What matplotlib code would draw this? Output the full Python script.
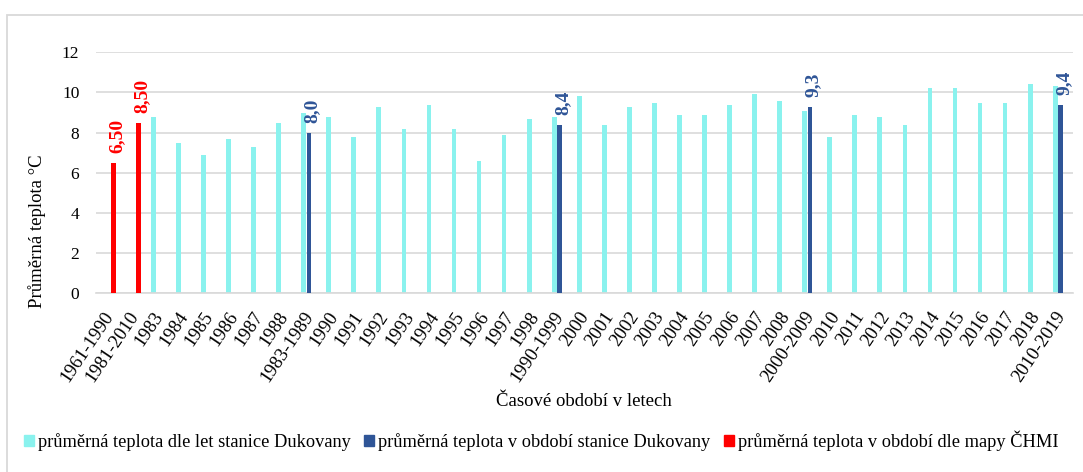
import numpy as np
import matplotlib
matplotlib.use("Agg")
import matplotlib.pyplot as plt
import matplotlib.transforms as mtrans
from matplotlib.patches import Rectangle

plt.rcParams["font.family"] = ["Liberation Serif", "DejaVu Serif"]

# data: one value per category, None where a series has no bar
labels = ["1961-1990", "1981-2010",
          "1983", "1984", "1985", "1986", "1987", "1988", "1983-1989",
          "1990", "1991", "1992", "1993", "1994", "1995", "1996", "1997", "1998", "1990-1999",
          "2000", "2001", "2002", "2003", "2004", "2005", "2006", "2007", "2008", "2000-2009",
          "2010", "2011", "2012", "2013", "2014", "2015", "2016", "2017", "2018", "2010-2019"]

rocni = [None, None,
         8.8, 7.5, 6.9, 7.7, 7.3, 8.5, 9.0,
         8.8, 7.8, 9.3, 8.2, 9.4, 8.2, 6.6, 7.9, 8.7, 8.8,
         9.8, 8.4, 9.3, 9.5, 8.9, 8.9, 9.4, 9.9, 9.6, 9.1,
         7.8, 8.9, 8.8, 8.4, 10.2, 10.2, 9.5, 9.5, 10.4, 10.3]

obdobi = {"1983-1989": 8.0, "1990-1999": 8.4, "2000-2009": 9.3, "2010-2019": 9.4}
chmi = {"1961-1990": 6.5, "1981-2010": 8.5}

c_cyan = "#8af2ee"
c_blue = "#2f5597"
c_red = "#ff0000"

fig = plt.figure(figsize=(10.83, 4.72), dpi=100)
fig.patches.append(Rectangle((7 / 1083, -0.1), 1.2, 1.1 - 15 / 472, transform=fig.transFigure,
                             fill=False, edgecolor="#d9d9d9", linewidth=1.3))
ax = fig.add_axes([96 / 1083, 178.7 / 472, 977 / 1083, 241 / 472])

x = np.arange(len(labels))
w = 0.19
off = 0.21

for i, v in enumerate(rocni):
    if v is not None:
        ax.bar(x[i] - off, v, w, color=c_cyan, zorder=2)

for name, v in obdobi.items():
    i = labels.index(name)
    ax.bar(x[i], v, w, color=c_blue, zorder=3)
    ax.annotate(f"{v:.1f}".replace(".", ","), (x[i], v), xytext=(2.5, 7), textcoords="offset points",
                rotation=90, ha="center", va="bottom", color=c_blue, fontsize=14, fontweight="bold")

for name, v in chmi.items():
    i = labels.index(name)
    ax.bar(x[i] + off, v, w, color=c_red, zorder=3)
    ax.annotate(f"{v:.2f}".replace(".", ","), (x[i] + off, v), xytext=(2.5, 7), textcoords="offset points",
                rotation=90, ha="center", va="bottom", color=c_red, fontsize=14, fontweight="bold")

ax.set_xlim(-0.5, len(labels) - 0.5)
ax.set_ylim(0, 12)
ax.set_yticks(range(0, 13, 2))
ax.grid(axis="y", color="#d9d9d9", linewidth=1.2, zorder=0)
ax.set_axisbelow(True)
for s in ["top", "right", "left"]:
    ax.spines[s].set_visible(False)
ax.spines["bottom"].set_color("#d9d9d9")
ax.spines["bottom"].set_linewidth(1.2)

ax.set_xticks(x)
ax.set_xticklabels(labels, rotation=56, ha="right", va="top", rotation_mode="anchor", fontsize=13.5)
ax.tick_params(axis="x", length=0, pad=11)
ax.tick_params(axis="y", length=0, pad=12, labelsize=12.5)
shift = mtrans.ScaledTranslation(-6 / 100, 0, fig.dpi_scale_trans)
for t in ax.get_xticklabels():
    t.set_transform(t.get_transform() + shift)

fig.text(37 / 1083, 1 - 231 / 472, "Průměrná teplota °C", rotation=90, ha="center", va="center", fontsize=13.5)
fig.text(584 / 1083, 1 - 402 / 472, "Časové období v letech", ha="center", va="center", fontsize=13.5)

handles = [Rectangle((0, 0), 1, 1, color=c) for c in (c_cyan, c_blue, c_red)]
fig.legend(handles,
           ["průměrná teplota dle let stanice Dukovany",
            "průměrná teplota v období stanice Dukovany",
            "průměrná teplota v období dle mapy ČHMI"],
           loc="center", bbox_to_anchor=(541 / 1083, 1 - 441 / 472), ncol=3, frameon=False,
           fontsize=13.2, handlelength=0.55, handleheight=0.55, handletextpad=0.2, columnspacing=0.75)

fig.savefig("out.png", dpi=100)
